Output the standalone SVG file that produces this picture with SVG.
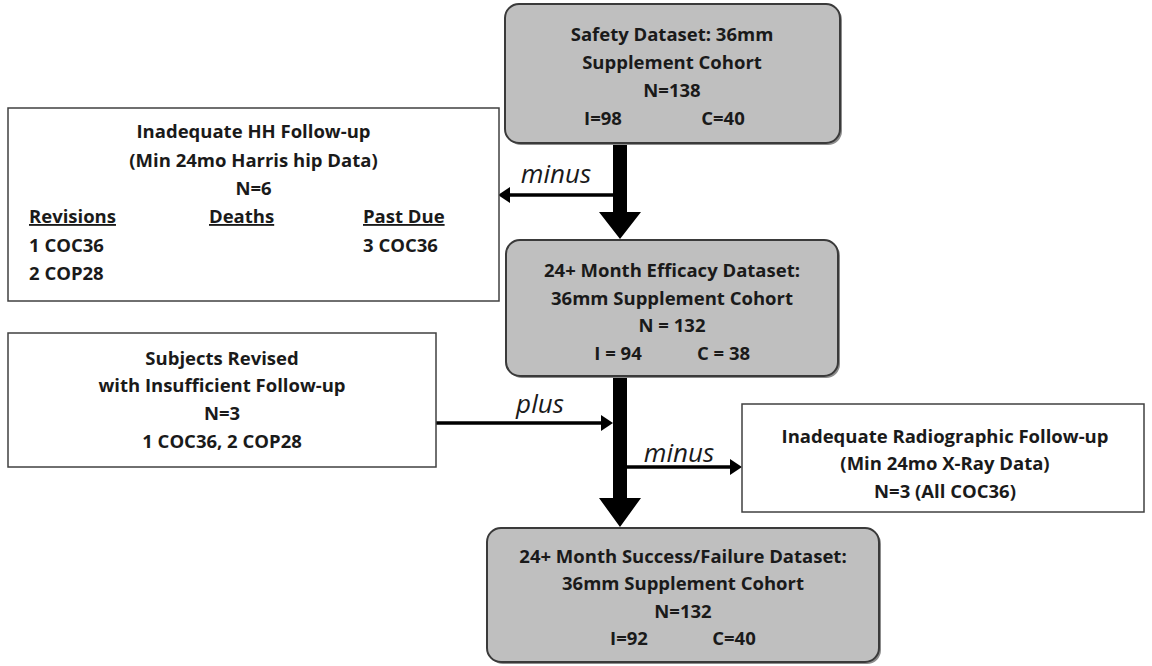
<svg xmlns="http://www.w3.org/2000/svg" width="1152" height="666" viewBox="0 0 1152 666">
<style>
.gray{fill:#bfbfbf;stroke:#3a3a3a;stroke-width:2}
.shadow{fill:#8c8c8c}
.white{fill:#ffffff;stroke:#404040;stroke-width:1.5}
.t{font-family:"Open Sans","Noto Sans",sans-serif;font-weight:700;font-size:18.5px;fill:#1a1a1a}
.c{text-anchor:middle}
.u{text-decoration:underline}
.lbl{font-family:"Open Sans","Noto Sans",sans-serif;font-style:italic;font-size:26px;fill:#1a1a1a;text-anchor:middle}
.thick{fill:#000}
.thin{stroke:#000;stroke-width:3.5;fill:none;marker-end:url(#ah)}
</style>
<defs>
<marker id="ah" viewBox="0 0 12 16" refX="4" refY="8" markerWidth="12" markerHeight="16" markerUnits="userSpaceOnUse" orient="auto">
<path d="M0,0 L12,8 L0,16 Z" fill="#000"/>
</marker>
</defs>
<rect width="1152" height="666" fill="#fff"/>

<g id="connectors">
<path class="thick" d="M613,143 H627 V212 H641 L620,239 L599,212 H613 Z"/>
<path class="thick" d="M613,376 H627 V498 H641 L620,527 L599,498 H613 Z"/>
<line class="thin" x1="613" y1="195" x2="506" y2="195"/>
<line class="thin" x1="436" y1="423" x2="605" y2="423"/>
<line class="thin" x1="627" y1="467" x2="734" y2="467"/>
<text class="lbl" x="556" y="183">minus</text>
<text class="lbl" x="540" y="413">plus</text>
<text class="lbl" x="679" y="462">minus</text>
</g>

<g id="safety">
<rect class="shadow" x="507" y="6" width="335" height="139" rx="14"/>
<rect class="gray" x="505" y="4" width="335" height="139" rx="14"/>
<text class="t c" x="672" y="41">Safety Dataset: 36mm</text>
<text class="t c" x="672" y="69">Supplement Cohort</text>
<text class="t c" x="672" y="97">N=138</text>
<text class="t c" x="603" y="125">I=98</text>
<text class="t c" x="723" y="125">C=40</text>
</g>

<g id="hh">
<rect class="white" x="8" y="108" width="491" height="193"/>
<text class="t c" x="253.5" y="138">Inadequate HH Follow-up</text>
<text class="t c" x="253.5" y="166.5">(Min 24mo Harris hip Data)</text>
<text class="t c" x="253.5" y="195">N=6</text>
<text class="t u" x="29" y="223">Revisions</text>
<text class="t u" x="209" y="223">Deaths</text>
<text class="t u" x="363" y="223">Past Due</text>
<text class="t" x="29" y="251.5">1 COC36</text>
<text class="t" x="363" y="251.5">3 COC36</text>
<text class="t" x="29" y="280">2 COP28</text>
</g>

<g id="efficacy">
<rect class="shadow" x="508" y="242" width="332" height="136" rx="14"/>
<rect class="gray" x="506" y="240" width="332" height="136" rx="14"/>
<text class="t c" x="672" y="277">24+ Month Efficacy Dataset:</text>
<text class="t c" x="672" y="304.5">36mm Supplement Cohort</text>
<text class="t c" x="672" y="332">N = 132</text>
<text class="t c" x="618" y="360">I = 94</text>
<text class="t c" x="723.5" y="360">C = 38</text>
</g>

<g id="revised">
<rect class="white" x="8" y="333" width="428" height="134"/>
<text class="t c" x="222" y="365">Subjects Revised</text>
<text class="t c" x="222" y="392">with Insufficient Follow-up</text>
<text class="t c" x="222" y="420">N=3</text>
<text class="t c" x="222" y="448">1 COC36, 2 COP28</text>
</g>

<g id="radiographic">
<rect class="white" x="742" y="404" width="402" height="108"/>
<text class="t c" x="945" y="443">Inadequate Radiographic Follow-up</text>
<text class="t c" x="945" y="470">(Min 24mo X-Ray Data)</text>
<text class="t c" x="945" y="498">N=3 (All COC36)</text>
</g>

<g id="success">
<rect class="shadow" x="489" y="530" width="392" height="134" rx="14"/>
<rect class="gray" x="487" y="528" width="392" height="134" rx="14"/>
<text class="t c" x="683" y="563">24+ Month Success/Failure Dataset:</text>
<text class="t c" x="683" y="590">36mm Supplement Cohort</text>
<text class="t c" x="683" y="618">N=132</text>
<text class="t c" x="629" y="645">I=92</text>
<text class="t c" x="734" y="645">C=40</text>
</g>
</svg>
